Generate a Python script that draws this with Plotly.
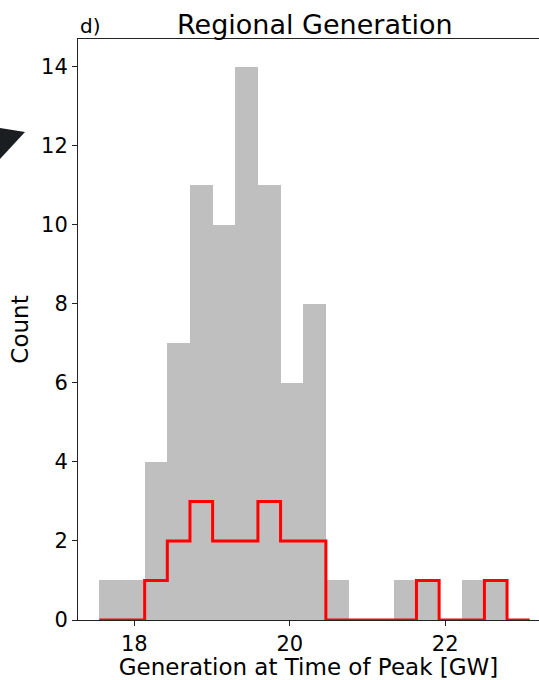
import plotly.graph_objects as go

# Histogram bins (GW)
bin_start = 17.55
bin_width = 0.2915
# Counts per bin: all regions (grey) and highlighted subset (red outline)
all_counts = [1, 1, 4, 7, 11, 10, 14, 11, 6, 8, 1, 0, 0, 1, 1, 0, 1, 1, 0]
sub_counts = [0, 0, 1, 2, 3, 2, 2, 3, 2, 2, 0, 0, 0, 0, 1, 0, 0, 1, 0]
x_ticks = [18, 20, 22]
y_ticks = [0, 2, 4, 6, 8, 10, 12, 14]

edges = [bin_start + i * bin_width for i in range(len(all_counts) + 1)]
centers = [(a + b) / 2 for a, b in zip(edges[:-1], edges[1:])]

# Step outline for the subset histogram
step_x, step_y = [edges[0]], [0]
for i, c in enumerate(sub_counts):
    step_x += [edges[i], edges[i + 1]]
    step_y += [c, c]
step_x.append(edges[-1])
step_y.append(0)

W, H = 539, 680
L, R, T, B = 78, 0, 39, 60
FONT = "DejaVu Sans"
SPINE = "#222"

fig = go.Figure()
fig.add_trace(go.Bar(
    x=centers, y=all_counts, width=bin_width,
    marker=dict(color="#bfbfbf", line=dict(width=0)),
    showlegend=False, hoverinfo="skip",
))
fig.add_trace(go.Scatter(
    x=step_x, y=step_y, mode="lines",
    line=dict(color="#ff0000", width=3),
    showlegend=False, hoverinfo="skip",
))


def px_to_paper(px, py):
    return (px - L) / (W - L - R), (H - B - py) / (H - T - B)


# Arrowhead tip from the neighbouring panel
tri = [px_to_paper(-10, 126.4), px_to_paper(25, 132), px_to_paper(-10, 169.8)]
path = "M {} {} L {} {} L {} {} Z".format(*[v for p in tri for v in p])
fig.add_shape(type="path", path=path, xref="paper", yref="paper",
              fillcolor="#1b1e21", line=dict(width=0), layer="above")

fig.add_annotation(text="Regional Generation", xref="paper", yref="paper",
                   x=0.514, y=1, xanchor="center", yanchor="bottom", yshift=-3,
                   showarrow=False, font=dict(family=FONT, size=27, color="#000"))
fig.add_annotation(text="d)", xref="paper", yref="paper",
                   x=0.0, y=1, xanchor="left", yanchor="bottom", yshift=-1,
                   showarrow=False, font=dict(family=FONT, size=20, color="#000"))

fig.update_layout(
    width=W, height=H,
    margin=dict(l=L, r=R, t=T, b=B, pad=0),
    paper_bgcolor="white", plot_bgcolor="white",
    bargap=0,
    font=dict(family=FONT, color="#000"),
    xaxis=dict(
        range=[17.275, 23.208], tickvals=x_ticks,
        ticks="outside", ticklen=5, tickwidth=1, tickcolor=SPINE,
        showline=True, linecolor=SPINE, linewidth=1, mirror=True,
        showgrid=False, zeroline=False,
        tickfont=dict(family=FONT, size=21, color="#000"),
        title=dict(text="Generation at Time of Peak [GW]",
                   font=dict(family=FONT, size=23, color="#000"), standoff=5),
    ),
    yaxis=dict(
        range=[0, 14.7], tickvals=y_ticks,
        ticks="outside", ticklen=5, tickwidth=1, tickcolor=SPINE,
        showline=True, linecolor=SPINE, linewidth=1, mirror=False,
        showgrid=False, zeroline=False,
        tickfont=dict(family=FONT, size=21, color="#000"),
        title=dict(text="Count",
                   font=dict(family=FONT, size=23, color="#000"), standoff=6),
    ),
)

fig.write_html("out.html")
